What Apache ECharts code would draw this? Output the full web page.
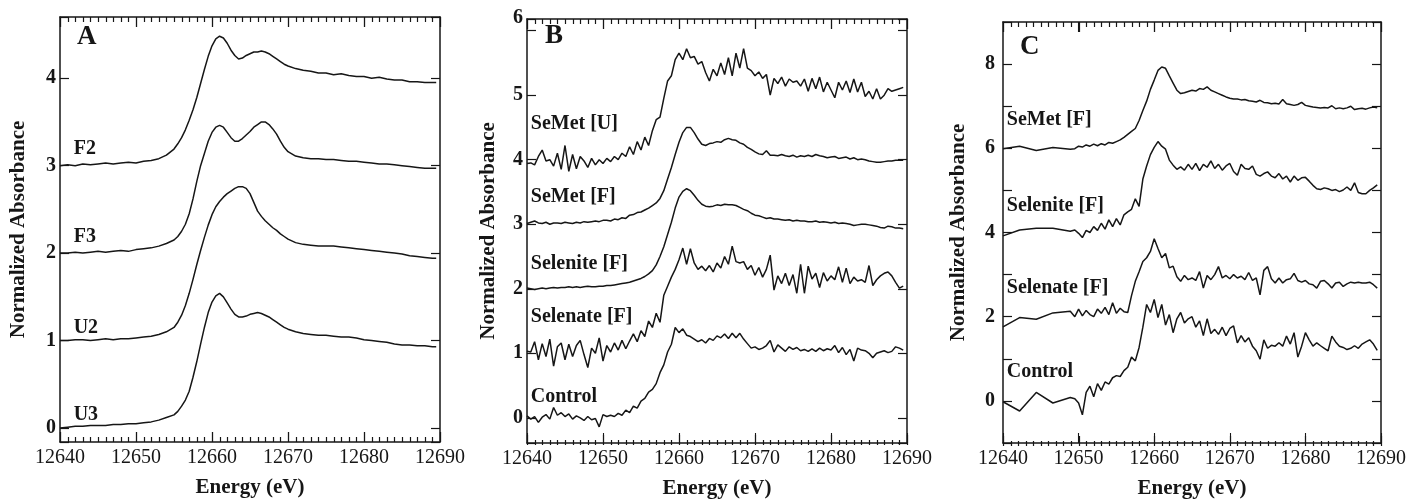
<!DOCTYPE html>
<html>
<head>
<meta charset="utf-8">
<script src="https://cdn.jsdelivr.net/npm/echarts@6/dist/echarts.min.js"></script>
<style>
  html, body { margin: 0; padding: 0; background: #ffffff; }
  #chart { width: 1409px; height: 504px; }
</style>
</head>
<body>
<div id="chart"></div>
<script>
// ---------- Panel A: fractions (offset by 1 unit each) ----------
const energyA = [
  12640, 12641, 12642, 12643, 12644, 12645, 12646, 12647, 12648, 12649,
  12650, 12651, 12652, 12653, 12654, 12655,
  12655.5, 12656, 12656.5, 12657, 12657.5, 12658, 12658.5, 12659, 12659.5, 12660,
  12660.5, 12661, 12661.5, 12662, 12662.5, 12663, 12663.5, 12664, 12664.5, 12665,
  12665.5, 12666, 12666.5, 12667, 12667.5, 12668, 12668.5, 12669, 12669.5, 12670,
  12671, 12672, 12673, 12674, 12675, 12676, 12677, 12678, 12679, 12680,
  12681, 12682, 12683, 12684, 12685, 12686, 12687, 12688, 12689, 12689.5
];
const absF2 = [
  3.00, 3.01, 3.00, 3.02, 3.01, 3.02, 3.03, 3.02, 3.03, 3.04,
  3.03, 3.05, 3.06, 3.08, 3.12, 3.19,
  3.25, 3.32, 3.41, 3.52, 3.64, 3.78, 3.94, 4.10, 4.25, 4.37,
  4.45, 4.48, 4.46, 4.40, 4.32, 4.26, 4.22, 4.23, 4.26, 4.28,
  4.30, 4.30, 4.31, 4.30, 4.28, 4.25, 4.22, 4.19, 4.16, 4.14,
  4.11, 4.09, 4.08, 4.06, 4.06, 4.04, 4.05, 4.03, 4.02, 4.02,
  4.00, 4.01, 3.99, 3.98, 3.98, 3.96, 3.96, 3.95, 3.95, 3.95
];
const absF3 = [
  2.00, 2.00, 2.01, 2.00, 2.01, 2.02, 2.01, 2.02, 2.03, 2.02,
  2.04, 2.05, 2.06, 2.08, 2.11, 2.15,
  2.19, 2.25, 2.33, 2.45, 2.62, 2.82, 3.00, 3.14, 3.28, 3.38,
  3.44, 3.46, 3.44, 3.38, 3.32, 3.28, 3.28, 3.31, 3.35, 3.39,
  3.44, 3.47, 3.50, 3.50, 3.47, 3.42, 3.36, 3.28, 3.21, 3.16,
  3.11, 3.09, 3.08, 3.08, 3.07, 3.07, 3.06, 3.05, 3.05, 3.04,
  3.03, 3.02, 3.02, 3.01, 3.00, 2.99, 2.98, 2.97, 2.97, 2.97
];
const absU2 = [
  1.00, 1.00, 1.01, 1.01, 1.00, 1.01, 1.02, 1.01, 1.02, 1.02,
  1.03, 1.04, 1.05, 1.07, 1.10, 1.15,
  1.21, 1.29, 1.40, 1.54, 1.70, 1.87, 2.03, 2.18, 2.32, 2.44,
  2.53, 2.59, 2.64, 2.68, 2.71, 2.74, 2.76, 2.76, 2.74, 2.68,
  2.58, 2.48, 2.42, 2.37, 2.33, 2.29, 2.26, 2.22, 2.19, 2.16,
  2.12, 2.10, 2.09, 2.08, 2.08, 2.08, 2.07, 2.06, 2.05, 2.04,
  2.03, 2.02, 2.01, 2.00, 1.99, 1.97, 1.96, 1.95, 1.94, 1.94
];
const absU3 = [
  0.00, 0.01, 0.02, 0.02, 0.03, 0.03, 0.03, 0.04, 0.04, 0.05,
  0.05, 0.06, 0.07, 0.09, 0.12, 0.15,
  0.19, 0.25, 0.32, 0.42, 0.58, 0.76, 0.96, 1.15, 1.32, 1.44,
  1.51, 1.54, 1.50, 1.43, 1.36, 1.30, 1.27, 1.27, 1.28, 1.30,
  1.31, 1.32, 1.31, 1.29, 1.27, 1.24, 1.21, 1.18, 1.15, 1.13,
  1.10, 1.08, 1.07, 1.06, 1.06, 1.05, 1.04, 1.04, 1.03, 1.01,
  1.00, 0.99, 0.98, 0.96, 0.95, 0.95, 0.94, 0.94, 0.93, 0.93
];
const tagsA = ['F2', 'F3', 'U2', 'U3'];

// ---------- Panel B: treatments (offset by 1 unit each) ----------
const energyB = [
  12640, 12640.5, 12641, 12641.5, 12642, 12642.5, 12643, 12643.5, 12644, 12644.5,
  12645, 12645.5, 12646, 12646.5, 12647, 12647.5, 12648, 12648.5, 12649, 12649.5,
  12650, 12650.5, 12651, 12651.5, 12652, 12652.5, 12653, 12653.5, 12654, 12654.5,
  12655, 12655.5, 12656, 12656.5, 12657, 12657.5, 12658, 12658.5, 12659, 12659.5,
  12660, 12660.5, 12661, 12661.5, 12662, 12662.5, 12663, 12663.5, 12664, 12664.5,
  12665, 12665.5, 12666, 12666.5, 12667, 12667.5, 12668, 12668.5, 12669, 12669.5,
  12670, 12670.5, 12671, 12671.5, 12672, 12672.5, 12673, 12673.5, 12674, 12674.5,
  12675, 12675.5, 12676, 12676.5, 12677, 12677.5, 12678, 12678.5, 12679, 12679.5,
  12680, 12680.5, 12681, 12681.5, 12682, 12682.5, 12683, 12683.5, 12684, 12684.5,
  12685, 12685.5, 12686, 12686.5, 12687, 12687.5, 12688, 12688.5, 12689, 12689.5
];
const semetU_B = [
  3.94, 3.95, 3.92, 4.05, 4.15, 3.98, 4.00, 3.90, 4.10, 3.85,
  4.22, 3.82, 4.08, 3.86, 4.05, 3.98, 3.88, 4.02, 3.92, 4.00,
  3.94, 4.02, 3.97, 4.05, 4.00, 4.10, 4.05, 4.20, 4.08, 4.28,
  4.15, 4.35, 4.22, 4.45, 4.62, 4.66, 4.95, 5.22, 5.30, 5.55,
  5.65, 5.55, 5.72, 5.58, 5.60, 5.48, 5.52, 5.35, 5.22, 5.40,
  5.30, 5.50, 5.32, 5.58, 5.30, 5.65, 5.42, 5.72, 5.42, 5.38,
  5.30, 5.36, 5.26, 5.32, 5.00, 5.26, 5.18, 5.28, 5.14, 5.25,
  5.20, 5.22, 5.14, 5.25, 5.06, 5.26, 5.10, 5.28, 5.05, 5.20,
  5.08, 4.96, 5.20, 5.08, 5.22, 5.04, 5.25, 5.05, 5.20, 4.98,
  5.06, 4.94, 5.10, 4.94, 5.00, 5.10, 5.06, 5.08, 5.10, 5.12
];
const semetF_B = [
  3.01, 3.03, 3.05, 3.02, 3.01, 3.03, 3.00, 3.02, 3.02, 3.01,
  3.03, 3.02, 3.01, 3.03, 3.02, 3.04, 3.03, 3.04, 3.05, 3.04,
  3.06, 3.06, 3.05, 3.08, 3.07, 3.10, 3.09, 3.14, 3.15, 3.18,
  3.19, 3.22, 3.25, 3.29, 3.33, 3.40, 3.52, 3.70, 3.88, 4.08,
  4.27, 4.42, 4.50, 4.50, 4.42, 4.32, 4.24, 4.22, 4.25, 4.26,
  4.28, 4.27, 4.31, 4.33, 4.31, 4.30, 4.26, 4.24, 4.19, 4.16,
  4.12, 4.09, 4.08, 4.14, 4.07, 4.07, 4.06, 4.08, 4.06, 4.05,
  4.07, 4.04, 4.06, 4.05, 4.07, 4.05, 4.08, 4.06, 4.05, 4.03,
  4.04, 4.05, 4.02, 4.03, 4.04, 4.01, 4.03, 4.00, 4.01, 4.00,
  3.98, 3.97, 3.96, 3.96, 3.97, 3.98, 3.98, 3.99, 3.99, 3.99
];
const seleniteF_B = [
  2.01, 2.00, 1.99, 2.00, 2.01, 2.00, 2.01, 2.02, 2.01, 2.02,
  2.02, 2.03, 2.02, 2.03, 2.02, 2.03, 2.04, 2.03, 2.03, 2.04,
  2.04, 2.05, 2.05, 2.06, 2.07, 2.08, 2.09, 2.10, 2.12, 2.14,
  2.16, 2.19, 2.23, 2.28, 2.37, 2.50, 2.65, 2.84, 3.03, 3.25,
  3.42, 3.51, 3.55, 3.52, 3.45, 3.37, 3.31, 3.28, 3.27, 3.28,
  3.30, 3.29, 3.31, 3.30, 3.30, 3.29, 3.26, 3.23, 3.21, 3.17,
  3.14, 3.13, 3.11, 3.09, 3.10, 3.08, 3.08, 3.07, 3.06, 3.07,
  3.05, 3.06, 3.05, 3.05, 3.04, 3.04, 3.05, 3.03, 3.04, 3.03,
  3.02, 3.03, 3.01, 3.02, 3.01, 3.00, 2.98, 2.99, 3.00, 3.00,
  2.99, 2.98, 2.97, 2.95, 2.94, 2.97, 2.96, 2.94, 2.94, 2.93
];
const selenateF_B = [
  1.03, 1.02, 1.18, 0.90, 1.15, 0.95, 1.22, 0.80, 1.10, 1.16,
  0.90, 1.14, 0.95, 1.12, 1.20, 0.98, 0.78, 1.08, 1.00, 1.24,
  0.88, 1.12, 1.02, 1.16, 1.05, 1.20, 1.07, 1.19, 1.30, 1.18,
  1.35, 1.26, 1.50, 1.40, 1.62, 1.48, 1.90, 2.04, 2.18, 2.30,
  2.45, 2.63, 2.38, 2.62, 2.40, 2.30, 2.35, 2.28, 2.36, 2.26,
  2.40, 2.32, 2.50, 2.38, 2.66, 2.42, 2.40, 2.42, 2.30, 2.36,
  2.21, 2.33, 2.18, 2.30, 2.52, 1.98, 2.20, 2.08, 2.24, 2.05,
  2.22, 1.93, 2.38, 1.93, 2.35, 2.15, 2.24, 2.02, 2.25, 2.12,
  2.20, 2.14, 2.34, 2.10, 2.32, 2.08, 2.18, 2.12, 2.14, 2.10,
  2.36, 2.05, 2.14, 2.20, 2.24, 2.26, 2.20, 2.10, 2.01, 2.04
];
const control_B = [
  0.03, -0.02, 0.02, -0.07, 0.01, 0.05, -0.02, 0.16, 0.04, 0.08,
  0.02, 0.06, -0.02, 0.03, 0.00, -0.04, 0.02, -0.03, -0.01, -0.14,
  0.05, 0.02, 0.04, 0.02, 0.07, 0.04, 0.12, 0.08, 0.18, 0.15,
  0.26, 0.30, 0.40, 0.44, 0.53, 0.70, 0.82, 1.02, 1.14, 1.40,
  1.32, 1.38, 1.28, 1.26, 1.22, 1.18, 1.21, 1.16, 1.23, 1.20,
  1.27, 1.24, 1.30, 1.23, 1.31, 1.24, 1.31, 1.22, 1.15, 1.08,
  1.10, 1.06, 1.08, 1.12, 1.20, 1.02, 1.13, 1.08, 1.03, 1.10,
  1.06, 1.09, 1.04, 1.06, 1.03, 1.07, 1.03, 1.08, 1.04, 1.07,
  1.05, 1.12, 1.01, 1.09, 0.98, 1.06, 0.88, 1.08, 1.05, 1.04,
  1.00, 0.93, 1.00, 1.02, 1.04, 1.01, 1.03, 1.10, 1.08, 1.05
];
const tagsB = ['SeMet [U]', 'SeMet [F]', 'Selenite [F]', 'Selenate [F]', 'Control'];

// ---------- Panel C: treatments (offset by 2 units each) ----------
const energyC = [
  12640, 12642.2, 12644.4, 12646.6, 12648.9,
  12649.5,
  12650, 12650.5, 12651, 12651.5, 12652, 12652.5, 12653, 12653.5, 12654, 12654.5,
  12655, 12655.5, 12656, 12656.5, 12657, 12657.5, 12658, 12658.5, 12659, 12659.5,
  12660, 12660.5, 12661, 12661.5, 12662, 12662.5, 12663, 12663.5, 12664, 12664.5,
  12665, 12665.5, 12666, 12666.5, 12667, 12667.5, 12668, 12668.5, 12669, 12669.5,
  12670, 12670.5, 12671, 12671.5, 12672, 12672.5, 12673, 12673.5, 12674, 12674.5,
  12675, 12675.5, 12676, 12676.5, 12677, 12677.5, 12678, 12678.5, 12679, 12679.5,
  12680, 12680.5, 12681, 12681.5, 12682, 12682.5, 12683, 12683.5, 12684, 12684.5,
  12685, 12685.5, 12686, 12686.5, 12687, 12687.5, 12688, 12688.5, 12689, 12689.5
];
const semetF_C = [
  5.99, 6.05, 5.95, 6.02, 5.98,
  5.99,
  6.05, 6.03, 6.08, 6.05, 6.10, 6.06, 6.11, 6.08, 6.14, 6.12,
  6.16, 6.20, 6.26, 6.33, 6.40, 6.47, 6.66, 6.90, 7.12, 7.40,
  7.62, 7.85, 7.93, 7.90, 7.72, 7.55, 7.38, 7.30, 7.32, 7.35,
  7.38, 7.36, 7.42, 7.40, 7.46, 7.38, 7.34, 7.30, 7.26, 7.22,
  7.19, 7.17, 7.17, 7.15, 7.16, 7.13, 7.12, 7.10, 7.14, 7.09,
  7.08, 7.06, 7.07, 7.05, 7.16, 7.06, 7.04, 7.02, 7.04, 7.09,
  7.02, 7.00, 6.98, 6.97, 6.96, 6.97, 6.96, 7.01, 6.94, 6.96,
  6.94, 6.96, 7.00, 6.92, 6.94, 6.95, 6.93, 6.96, 6.98, 6.96
];
const seleniteF_C = [
  3.92, 4.06, 4.10, 4.10, 4.03,
  4.06,
  3.98, 3.88, 4.05, 4.00, 4.14, 4.05, 4.22, 4.08, 4.30, 4.14,
  4.33, 4.18, 4.42, 4.49, 4.55, 4.80, 4.62, 5.27, 5.58, 5.85,
  6.02, 6.16, 6.05, 5.98, 5.72, 5.60, 5.50, 5.56, 5.48, 5.62,
  5.50, 5.64, 5.47, 5.62, 5.55, 5.70, 5.52, 5.62, 5.48, 5.58,
  5.64, 5.45, 5.36, 5.62, 5.52, 5.50, 5.58, 5.38, 5.34, 5.40,
  5.44, 5.34, 5.30, 5.40, 5.27, 5.34, 5.20, 5.34, 5.24, 5.30,
  5.31, 5.22, 5.12, 5.04, 5.02, 5.06, 5.04, 5.00, 5.02, 4.97,
  5.01, 5.08, 5.00, 5.18, 4.95, 4.92, 4.92, 5.00, 5.06, 5.13
];
const selenateF_C = [
  1.76, 1.98, 1.94, 2.09, 2.13,
  2.00,
  2.18, 2.02, 2.15, 2.05, 2.00, 2.18, 2.08, 2.22, 2.05, 2.33,
  2.08, 2.20, 2.12, 2.10, 2.50, 2.84, 3.07, 3.31, 3.40, 3.55,
  3.85, 3.62, 3.40, 3.50, 3.16, 3.20, 2.95, 2.84, 2.98, 2.88,
  2.92, 2.86, 3.07, 2.68, 2.98, 2.88, 3.00, 3.19, 2.92, 2.98,
  2.90, 3.00, 2.92, 2.96, 2.88, 3.05, 2.86, 2.92, 2.52, 3.10,
  3.19, 2.90, 2.80, 2.92, 2.80, 2.88, 2.90, 3.03, 2.86, 2.82,
  2.86, 2.78, 2.76, 2.68, 2.84, 2.86, 2.78, 2.68, 2.80, 2.82,
  2.72, 2.78, 2.82, 2.80, 2.82, 2.80, 2.80, 2.82, 2.76, 2.68
];
const control_C = [
  -0.02, -0.24, 0.20, -0.05, 0.08,
  0.05,
  -0.05, -0.33, 0.20, 0.35, 0.10, 0.41, 0.25, 0.45, 0.40, 0.55,
  0.60, 0.58, 0.72, 0.80, 1.04, 0.95, 1.27, 1.75, 2.29, 2.10,
  2.41, 1.98, 2.29, 1.80, 2.05, 1.62, 1.95, 2.10, 1.85, 1.95,
  2.00, 1.75, 1.90, 1.55, 1.95, 1.60, 1.70, 1.58, 1.75, 1.55,
  1.72, 1.78, 1.38, 1.55, 1.40, 1.50, 1.30, 1.19, 0.99, 1.45,
  1.25, 1.32, 1.30, 1.38, 1.30, 1.54, 1.35, 1.62, 1.04, 1.30,
  1.62, 1.45, 1.30, 1.38, 1.31, 1.25, 1.19, 1.54, 1.40, 1.30,
  1.27, 1.22, 1.25, 1.31, 1.25, 1.35, 1.40, 1.45, 1.35, 1.20
];
const tagsC = ['SeMet [F]', 'Selenite [F]', 'Selenate [F]', 'Control'];
const panelLetters = ['A', 'B', 'C'];

// energy tick positions (1 eV minor, every 10 eV major) shared by the three panels
const energyTicks = [
  12640, 12641, 12642, 12643, 12644, 12645, 12646, 12647, 12648, 12649,
  12650, 12651, 12652, 12653, 12654, 12655, 12656, 12657, 12658, 12659,
  12660, 12661, 12662, 12663, 12664, 12665, 12666, 12667, 12668, 12669,
  12670, 12671, 12672, 12673, 12674, 12675, 12676, 12677, 12678, 12679,
  12680, 12681, 12682, 12683, 12684, 12685, 12686, 12687, 12688, 12689,
  12690
];

// ---------- styling ----------
const SERIF = "'Liberation Serif', 'Times New Roman', 'DejaVu Serif', serif";
const INK = '#161616';

const isWhole = v => Math.abs(v - Math.round(v)) < 1e-6;

// bottom (labelled) and top (frame only) energy axes of one panel
function energyAxes(g, nameGap) {
  const frame = {
    type: 'value', gridIndex: g, min: 12640, max: 12690, interval: 10,
    axisLine: { show: true, onZero: false, lineStyle: { color: INK, width: 1.5 } },
    axisTick: { show: true, inside: true, length: 10, lineStyle: { color: INK, width: 1.1 } },
    splitLine: { show: false }
  };
  return [
    Object.assign({}, frame, {
      position: 'bottom',
      axisLabel: { show: true, showMinLabel: true, showMaxLabel: true, margin: 6,
        formatter: v => String(v),
        fontFamily: SERIF, fontSize: 20, color: INK },
      name: 'Energy (eV)', nameLocation: 'middle', nameGap: nameGap,
      nameTextStyle: { fontFamily: SERIF, fontSize: 21, fontWeight: 'bold', color: INK }
    }),
    Object.assign({}, frame, { position: 'top', axisLabel: { show: false } })
  ];
}

// left (labelled) and right (ticks only) absorbance axes of one panel
function absorbanceAxes(g, min, max, extra, labelOpts, nameGap) {
  const base = Object.assign({
    type: 'value', gridIndex: g, min: min, max: max,
    axisLine: { show: true, onZero: false, lineStyle: { color: INK, width: 1.5 } },
    axisTick: { show: true, inside: true, length: 9, lineStyle: { color: INK, width: 1.2 } },
    splitLine: { show: false }
  }, extra);
  return [
    Object.assign({}, base, {
      position: 'left',
      axisLabel: Object.assign({ show: true, showMinLabel: true, showMaxLabel: true,
        fontFamily: SERIF, fontSize: 20, fontWeight: 'bold', color: INK }, labelOpts),
      name: 'Normalized Absorbance', nameLocation: 'middle', nameGap: nameGap, nameRotate: 90,
      nameTextStyle: { fontFamily: SERIF, fontSize: 21, fontWeight: 'bold', color: INK }
    }),
    Object.assign({}, base, { position: 'right', axisLabel: { show: false } })
  ];
}

function trace(g, xs, ys) {
  return {
    type: 'line', xAxisIndex: 2 * g, yAxisIndex: 2 * g,
    data: xs.map((x, i) => [x, ys[i]]),
    showSymbol: false, symbol: 'none', silent: true, clip: true,
    lineStyle: { color: INK, width: 1.5 }, z: 3
  };
}

// curve names written just above each baseline
function tagSeries(g, names, anchors) {
  return {
    type: 'scatter', xAxisIndex: 2 * g, yAxisIndex: 2 * g, silent: true,
    symbolSize: 0, itemStyle: { color: INK, opacity: 1 },
    data: names.map((n, i) => ({ name: n, value: anchors[i] })),
    label: { show: true, position: 'right', distance: 0, formatter: '{b}',
      fontFamily: SERIF, fontSize: 20, fontWeight: 'bold', color: INK, opacity: 1 },
    emphasis: { disabled: true },
    z: 4
  };
}

const gridBoxes = [
  { left: 60, top: 17, width: 380, height: 425 },
  { left: 527, top: 19, width: 380, height: 426 },
  { left: 1003, top: 22, width: 380, height: 424 }
];

const letterMarks = [
  { type: 'text', x: 77, y: 37, style: { text: panelLetters[0], fontFamily: SERIF, fontSize: 27, fontWeight: 'bold', fill: INK, verticalAlign: 'middle' } },
  { type: 'text', x: 545, y: 36, style: { text: panelLetters[1], fontFamily: SERIF, fontSize: 27, fontWeight: 'bold', fill: INK, verticalAlign: 'middle' } },
  { type: 'text', x: 1020, y: 47, style: { text: panelLetters[2], fontFamily: SERIF, fontSize: 27, fontWeight: 'bold', fill: INK, verticalAlign: 'middle' } }
];

const xAxes = [].concat(energyAxes(0, 35), energyAxes(1, 35), energyAxes(2, 35));
const yAxes = [].concat(
  absorbanceAxes(0, -0.16, 4.70, { splitNumber: 5 },
    { margin: 4, formatter: v => isWhole(v) ? String(Math.round(v)) : '' }, 31),
  absorbanceAxes(1, -0.39, 6.18, { splitNumber: 5 },
    { margin: 4,
      formatter: v => !isWhole(v) ? '' : (Math.round(v) === 6 ? '{up|6}' : String(Math.round(v))),
      rich: { up: { padding: [0, 0, 26, 0], fontFamily: SERIF, fontSize: 20, fontWeight: 'bold', color: INK } } }, 28),
  absorbanceAxes(2, -1, 9, { interval: 1 },
    { margin: 8, formatter: v => (Math.round(v) % 2 === 0 ? String(Math.round(v)) : '') }, 34)
);

const option = {
  animation: false,
  grid: gridBoxes,
  xAxis: xAxes,
  yAxis: yAxes,
  graphic: letterMarks,
  series: [
    trace(0, energyA, absF2), trace(0, energyA, absF3), trace(0, energyA, absU2), trace(0, energyA, absU3),
    tagSeries(0, tagsA, [[12641.8, 3.19], [12641.8, 2.19], [12641.8, 1.14], [12641.8, 0.15]]),

    trace(1, energyB, semetU_B), trace(1, energyB, semetF_B), trace(1, energyB, seleniteF_B),
    trace(1, energyB, selenateF_B), trace(1, energyB, control_B),
    tagSeries(1, tagsB, [[12640.5, 4.55], [12640.5, 3.42], [12640.5, 2.38], [12640.5, 1.56], [12640.5, 0.33]]),

    trace(2, energyC, semetF_C), trace(2, energyC, seleniteF_C), trace(2, energyC, selenateF_C), trace(2, energyC, control_C),
    tagSeries(2, tagsC, [[12640.5, 6.68], [12640.5, 4.64], [12640.5, 2.68], [12640.5, 0.68]])
  ]
};

const chart = echarts.init(document.getElementById('chart'));
chart.setOption(option);

// inward tick stubs along the bottom and top frame edges, placed through each panel's energy scale
const tickMarks = [];
gridBoxes.forEach((box, g) => {
  const bottom = box.top + box.height;
  const top = box.top;
  energyTicks.forEach(e => {
    const x = Math.round(chart.convertToPixel({ xAxisIndex: 2 * g }, e)) + 0.5;
    const len = (e % 10 === 0) ? 10 : 5;
    tickMarks.push({ type: 'line', silent: true, z: 10,
      shape: { x1: x, y1: bottom, x2: x, y2: bottom - len }, style: { stroke: INK, lineWidth: 1.2 } });
    tickMarks.push({ type: 'line', silent: true, z: 10,
      shape: { x1: x, y1: top, x2: x, y2: top + len }, style: { stroke: INK, lineWidth: 1.2 } });
  });
});
chart.setOption({ graphic: letterMarks.concat(tickMarks) });
</script>
</body>
</html>
